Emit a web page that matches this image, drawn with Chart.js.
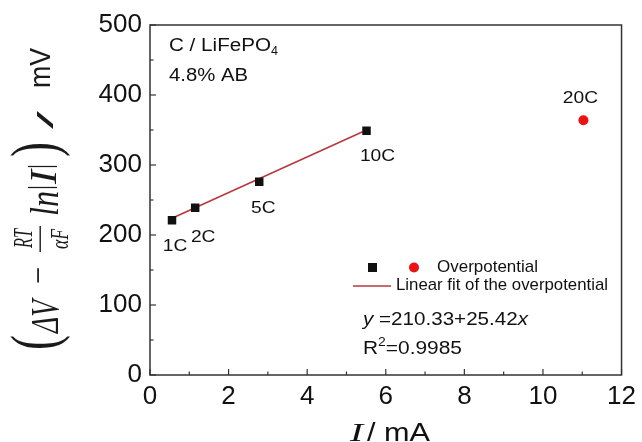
<!DOCTYPE html>
<html>
<head>
<meta charset="utf-8">
<script src="https://cdn.jsdelivr.net/npm/chart.js@4.4.0/dist/chart.umd.min.js"></script>
<style>
  html, body { margin: 0; padding: 0; background: #fff; }
  #wrap { width: 642px; height: 442px; }
</style>
</head>
<body>
<div id="wrap"><canvas id="chart" width="642" height="442"></canvas></div>
<script>
// DATA
const rateLabels = ["1C", "2C", "5C", "10C"];
const currentMA = [0.56, 1.15, 2.78, 5.51];
const overpotential = [221, 239, 276, 349];
const highRateLabels = ["20C"];
const highRateCurrent = [11.03];
const highRateOverpotential = [364];
const fitX = [0.56, 5.51];
const fitY = [224, 350];
const xTicks = [0, 2, 4, 6, 8, 10, 12];
const yTicks = [0, 100, 200, 300, 400, 500];

const INK = "#111";
const SANS = '"Liberation Sans", Arial, sans-serif';
const SERIF = '"Liberation Serif", "Times New Roman", serif';

// label offsets for the rate labels (px from the marker)
const labelOffsets = [[3, 25], [8, 28], [4, 25], [11, 24]];
const highLabelOffsets = [[-3, -23]];

function toPoints(xs, ys) {
    return xs.map((v, i) => ({ x: v, y: ys[i] }));
}

function partsWidth(ctx, parts) {
    let w = 0;
    parts.forEach(p => { ctx.font = p.font; w += ctx.measureText(p.t).width; });
    return w;
}

// draw text pieces left aligned at (x, y), stretched so the run is `len` px long
// (the source figure is a resized scan, so its lettering is wider than the fonts here)
function fitText(ctx, parts, x, y, len, sy) {
    const w = partsWidth(ctx, parts);
    ctx.save();
    ctx.translate(x, y);
    ctx.scale(len / w, sy || 1);
    let cx = 0;
    parts.forEach(p => {
        ctx.font = p.font;
        ctx.fillText(p.t, cx, p.dy || 0);
        cx += ctx.measureText(p.t).width;
    });
    ctx.restore();
}

// vertical text piece: baseline at column xBase, running upward from yBottom to yTop
function fitUp(ctx, t, font, xBase, yBottom, yTop, sy) {
    ctx.save();
    ctx.translate(xBase, yBottom);
    ctx.rotate(-Math.PI / 2);
    fitText(ctx, [{ t: t, font: font }], 0, 0, yBottom - yTop, sy);
    ctx.restore();
}

// ---------- FRAME, INWARD TICKS ----------
const frameTicks = {
    id: "frameTicks",
    beforeDatasetsDraw(chart) {
        const { ctx, chartArea: a, scales: { x, y } } = chart;
        ctx.save();
        ctx.strokeStyle = "#333";
        ctx.lineWidth = 1.5;
        ctx.strokeRect(a.left, a.top, a.right - a.left, a.bottom - a.top);
        ctx.lineWidth = 1.2;
        x.ticks.forEach(t => {
            const px = x.getPixelForValue(t.value);
            const len = xTicks.includes(t.value) ? 6 : 3.5;
            ctx.beginPath();
            ctx.moveTo(px, a.bottom);
            ctx.lineTo(px, a.bottom - len);
            ctx.stroke();
        });
        y.ticks.forEach(t => {
            const py = y.getPixelForValue(t.value);
            const len = yTicks.includes(t.value) ? 6 : 3.5;
            ctx.beginPath();
            ctx.moveTo(a.left, py);
            ctx.lineTo(a.left + len, py);
            ctx.stroke();
        });
        ctx.restore();
    }
};

// ---------- LABELS, LEGEND, AXIS TITLES ----------
const annotations = {
    id: "annotations",
    afterDatasetsDraw(chart) {
        const { ctx } = chart;
        ctx.save();
        ctx.fillStyle = INK;
        ctx.textAlign = "left";
        ctx.textBaseline = "alphabetic";

        // rate labels next to markers
        const lab = (t, cx, cy) => {
            const p = [{ t: t, font: "17px " + SANS }];
            const w = partsWidth(ctx, p) * 1.13;
            fitText(ctx, p, cx - w / 2, cy + 6, w);
        };
        const m0 = chart.getDatasetMeta(0);
        rateLabels.forEach((t, i) => {
            const p = m0.data[i];
            lab(t, p.x + labelOffsets[i][0], p.y + labelOffsets[i][1]);
        });
        const m1 = chart.getDatasetMeta(1);
        highRateLabels.forEach((t, i) => {
            const p = m1.data[i];
            lab(t, p.x + highLabelOffsets[i][0], p.y + highLabelOffsets[i][1]);
        });

        // sample text, top left
        fitText(ctx, [{ t: "C / LiFePO", font: "18px " + SANS }], 169, 51, 102);
        fitText(ctx, [{ t: "4", font: "12px " + SANS }], 271, 55, 7);
        fitText(ctx, [{ t: "4.8% AB", font: "18px " + SANS }], 169, 81, 79);

        // legend
        ctx.fillStyle = INK;
        ctx.fillRect(368, 263, 9, 9);
        ctx.fillStyle = "#ee1111";
        ctx.beginPath();
        ctx.arc(414, 267.5, 5, 0, Math.PI * 2);
        ctx.fill();
        ctx.strokeStyle = "#b8383c";
        ctx.lineWidth = 1.6;
        ctx.beginPath();
        ctx.moveTo(353, 286);
        ctx.lineTo(391, 286);
        ctx.stroke();
        ctx.fillStyle = INK;
        fitText(ctx, [{ t: "Overpotential", font: "17px " + SANS }], 437, 272, 101);
        fitText(ctx, [{ t: "Linear fit of the overpotential", font: "17px " + SANS }], 396, 290, 212);

        // fit equation
        fitText(ctx, [
            { t: "y", font: "italic 18px " + SANS },
            { t: " =210.33+25.42", font: "18px " + SANS },
            { t: "x", font: "italic 18px " + SANS }
        ], 363, 325, 165);
        fitText(ctx, [
            { t: "R", font: "18px " + SANS },
            { t: "2", font: "12px " + SANS, dy: -8 },
            { t: "=0.9985", font: "18px " + SANS }
        ], 363, 354, 99);

        // x axis title
        fitText(ctx, [{ t: "I", font: "italic 26px " + SERIF }], 350, 441, 13);
        fitText(ctx, [{ t: "/ mA", font: "26px " + SANS }], 367, 441, 63);

        // y axis title, built up from the bottom
        ctx.fillStyle = "#1a1a1a";
        const MATH = "italic 30px " + SERIF;
        fitUp(ctx, "(", "40px " + SERIF, 56, 350, 335, 1.64);
        fitUp(ctx, "\u0394V", MATH, 58, 333, 300, 1.36);
        fitUp(ctx, "\u2212", "30px " + SERIF, 50, 284, 267, 1.2);
        fitUp(ctx, "RT", "italic 16px " + SERIF, 32, 248, 229, 1.7);
        fitUp(ctx, "\u03b1F", "italic 16px " + SERIF, 68, 249, 229, 1.6);
        ctx.fillRect(39.5, 226, 1.4, 26);
        fitUp(ctx, "ln", MATH, 58, 216, 191, 1.36);
        fitUp(ctx, "|", "30px " + SERIF, 50, 190, 185, 1.07);
        fitUp(ctx, "I", MATH, 56, 184, 170, 1.25);
        fitUp(ctx, "|", "30px " + SERIF, 50, 169, 164, 1.07);
        fitUp(ctx, ")", "40px " + SERIF, 56, 157, 142, 1.64);
        fitUp(ctx, "/", "40px " + SANS, 53, 129, 111, 0.55);
        fitUp(ctx, "mV", "27px " + SANS, 50, 88, 48, 1.1);
        ctx.restore();
    }
};

// ---------- CHART ----------
const ctx = document.getElementById("chart").getContext("2d");

new Chart(ctx, {
    type: "scatter",
    data: {
        datasets: [
            {
                label: "Overpotential",
                data: toPoints(currentMA, overpotential),
                pointStyle: "rect",
                pointRadius: 6,
                backgroundColor: INK,
                borderColor: INK,
                borderWidth: 0,
                order: 1
            },
            {
                label: "Overpotential 20C",
                data: toPoints(highRateCurrent, highRateOverpotential),
                pointStyle: "circle",
                pointRadius: 5,
                backgroundColor: "#ee1111",
                borderColor: "#ee1111",
                borderWidth: 0,
                order: 1
            },
            {
                label: "Linear fit of the overpotential",
                type: "line",
                data: toPoints(fitX, fitY),
                borderColor: "#b8383c",
                borderWidth: 1.6,
                pointRadius: 0,
                fill: false,
                order: 2
            }
        ]
    },
    options: {
        responsive: false,
        animation: false,
        devicePixelRatio: 1,
        layout: { padding: { top: 25, right: 17, left: 0, bottom: 0 } },
        plugins: {
            legend: { display: false },
            tooltip: { enabled: false }
        },
        scales: {
            x: {
                type: "linear",
                min: 0,
                max: 12,
                grid: { display: false, drawTicks: false },
                border: { display: false },
                ticks: {
                    stepSize: 1,
                    autoSkip: false,
                    maxRotation: 0,
                    padding: 6,
                    color: INK,
                    font: { family: SANS, size: 26 },
                    callback: v => xTicks.includes(v) ? String(v) : ""
                },
                afterFit(s) { s.height = 67; }
            },
            y: {
                min: 0,
                max: 500,
                grid: { display: false, drawTicks: false },
                border: { display: false },
                ticks: {
                    stepSize: 50,
                    autoSkip: false,
                    padding: 8,
                    color: INK,
                    font: { family: SANS, size: 26 },
                    callback: v => yTicks.includes(v) ? String(v) : ""
                },
                afterFit(s) { s.width = 150; }
            }
        }
    },
    plugins: [frameTicks, annotations]
});
</script>
</body>
</html>
